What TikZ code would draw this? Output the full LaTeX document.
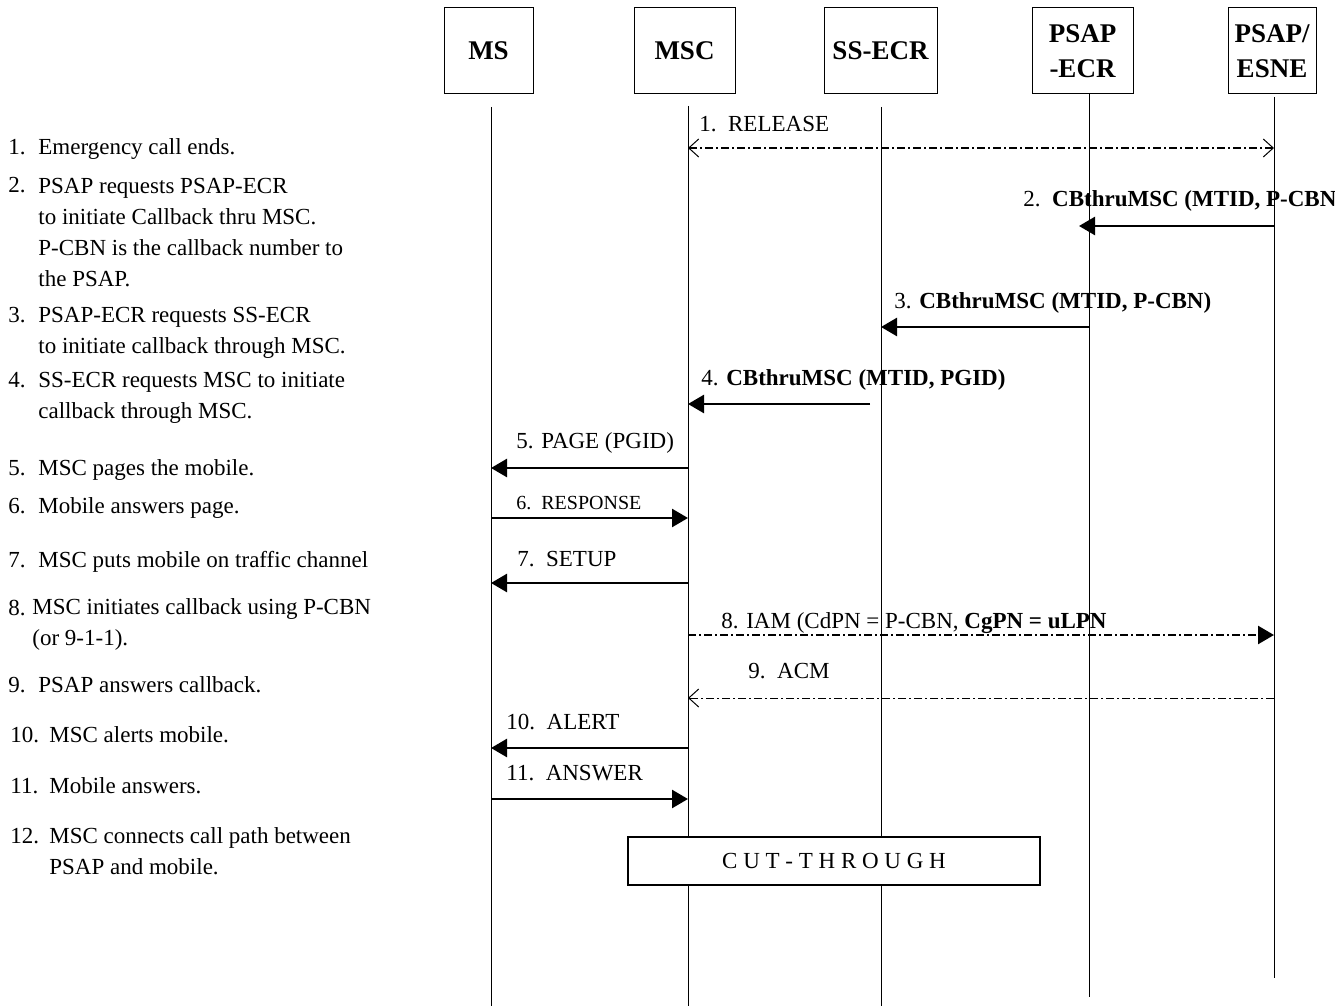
\documentclass[tikz,border=0pt]{standalone}
\usepackage{fontspec}
\setmainfont{Liberation Serif}
\usetikzlibrary{arrows.meta}

\begin{document}
\begin{tikzpicture}[x=0.5pt,y=-0.5pt,
  entity/.style={draw,line width=0.5pt,align=center,inner sep=0pt,minimum height=43pt,font=\fontsize{13.5}{17.5}\selectfont\bfseries},
  life/.style={line width=0.5pt},
  msg/.style={line width=1.3pt,-{Triangle[length=8pt,width=9pt]}},
  dashmsg/.style={msg,dash pattern=on 4pt off 1.5pt on 1pt off 1.5pt},
  relmsg/.style={line width=1pt,dash pattern=on 4pt off 1.5pt on 1pt off 1.5pt,{Straight Barb[length=5pt,width=9pt,line width=0.5pt]}-{Straight Barb[length=5pt,width=9pt,line width=0.5pt]}},
  acmmsg/.style={line width=0.5pt,dash pattern=on 4pt off 1.5pt on 1pt off 1.5pt,-{Straight Barb[length=5pt,width=9pt]}},
  lbl/.style={anchor=base west,inner sep=0pt,font=\fontsize{11.5}{15.5}\selectfont},
  desc/.style={anchor=base west,inner sep=0pt,align=left,font=\fontsize{11.5}{15.5}\selectfont}]
\useasboundingbox (0,0) rectangle (1335,1006);

\node[entity,minimum width=44.5pt] (ms) at (488.5,51) {MS};
\node[entity,minimum width=50.5pt] (msc) at (684.5,51) {MSC};
\node[entity,minimum width=56.5pt] (ssecr) at (880.5,51) {SS-ECR};
\node[entity,minimum width=50.5pt] (psapecr) at (1082.5,51) {PSAP\\-ECR};
\node[entity,minimum width=44pt] (esne) at (1272,51) {PSAP/\\ESNE};

\coordinate (ms-top) at (491,107);
\coordinate (ms-bot) at (491,1006);
\coordinate (msc-top) at (688,106);
\coordinate (msc-bot) at (688,1006);
\coordinate (ssecr-top) at (881,107);
\coordinate (ssecr-bot) at (881,1006);
\coordinate (psapecr-top) at (1089,93);
\coordinate (psapecr-bot) at (1089,997);
\coordinate (esne-top) at (1274,97);
\coordinate (esne-bot) at (1274,978);

\draw[life] (ms-top) -- (ms-bot);
\draw[life] (msc-top) -- (msc-bot);
\draw[life] (ssecr-top) -- (ssecr-bot);
\draw[life] (psapecr-top) -- (psapecr-bot);
\draw[life] (esne-top) -- (esne-bot);

\coordinate (y1) at (0,148);
\coordinate (y2) at (0,226);
\coordinate (y3) at (0,327);
\coordinate (y4) at (0,404);
\coordinate (y5) at (0,468);
\coordinate (y6) at (0,518);
\coordinate (y7) at (0,583);
\coordinate (y8) at (0,635);
\coordinate (y9) at (0,698);
\coordinate (y10) at (0,748);
\coordinate (y11) at (0,799);

\draw[relmsg] (msc-top |- y1) -- (esne-top |- y1);
\draw[msg,shorten >=-5pt] (esne-top |- y2) -- (psapecr-top |- y2);
\draw[msg] (psapecr-top |- y3) -- (ssecr-top |- y3);
\draw[msg,shorten <=5.5pt] (ssecr-top |- y4) -- (msc-top |- y4);
\draw[msg] (msc-top |- y5) -- (ms-top |- y5);
\draw[msg] (ms-top |- y6) -- (msc-top |- y6);
\draw[msg] (msc-top |- y7) -- (ms-top |- y7);
\draw[dashmsg] (msc-top |- y8) -- (esne-top |- y8);
\draw[acmmsg] (esne-top |- y9) -- (msc-top |- y9);
\draw[msg] (msc-top |- y10) -- (ms-top |- y10);
\draw[msg] (ms-top |- y11) -- (msc-top |- y11);

\node[lbl] (l1) at (699,132) {1.\ \ RELEASE};
\node[lbl] (l2) at (1023,206) {2.\ \ \textbf{CBthruMSC (MTID, P-CBN}};
\node[lbl] (l3) at (894,308) {3. \textbf{CBthruMSC (MTID, P-CBN)}};
\node[lbl] (l4) at (701,385) {4. \textbf{CBthruMSC (MTID, PGID)}};
\node[lbl] (l5) at (516,448) {5. PAGE (PGID)};
\node[lbl,font=\fontsize{10}{12}\selectfont] (l6) at (516,509) {6.\ \ RESPONSE};
\node[lbl] (l7) at (517,566) {7.\ \ SETUP};
\node[lbl] (l8) at (721,628) {8. IAM (CdPN = P-CBN, \textbf{CgPN = uLPN}};
\node[lbl] (l9) at (748,678) {9.\ \ ACM};
\node[lbl] (l10) at (506,729) {10.\ \ ALERT};
\node[lbl] (l11) at (506,780) {11.\ \ ANSWER};

\node[draw,line width=1pt,fill=white,minimum width=206pt,minimum height=24pt,font=\fontsize{11.5}{15.5}\selectfont] (cut) at (834,861) {C U T - T H R O U G H};

% multi-line notes sit on the baseline of their last line
\node[lbl] (n1) at (8,155) {1.};
\node[desc] (d1) at (38,155) {Emergency call ends.};
\node[lbl] (n2) at (8,193) {2.};
\node[desc] (d2) at (38,286) {PSAP requests PSAP-ECR\\to initiate Callback thru MSC.\\P-CBN is the callback number to\\the PSAP.};
\node[lbl] (n3) at (8,322) {3.};
\node[desc] (d3) at (38,353) {PSAP-ECR requests SS-ECR\\to initiate callback through MSC.};
\node[lbl] (n4) at (8,387) {4.};
\node[desc] (d4) at (38,418) {SS-ECR requests MSC to initiate\\callback through MSC.};
\node[lbl] (n5) at (8,475) {5.};
\node[desc] (d5) at (38,475) {MSC pages the mobile.};
\node[lbl] (n6) at (8,513) {6.};
\node[desc] (d6) at (38,513) {Mobile answers page.};
\node[lbl] (n7) at (8,567) {7.};
\node[desc] (d7) at (38,567) {MSC puts mobile on traffic channel};
\node[lbl] (n8) at (8,615) {8.};
\node[desc] (d8) at (32,645) {MSC initiates callback using P-CBN\\(or 9-1-1).};
\node[lbl] (n9) at (8,692) {9.};
\node[desc] (d9) at (38,692) {PSAP answers callback.};
\node[lbl] (n10) at (10,742) {10.};
\node[desc] (d10) at (49,742) {MSC alerts mobile.};
\node[lbl] (n11) at (10,793) {11.};
\node[desc] (d11) at (49,793) {Mobile answers.};
\node[lbl] (n12) at (10,843) {12.};
\node[desc] (d12) at (49,874) {MSC connects call path between\\PSAP and mobile.};
\end{tikzpicture}
\end{document}
